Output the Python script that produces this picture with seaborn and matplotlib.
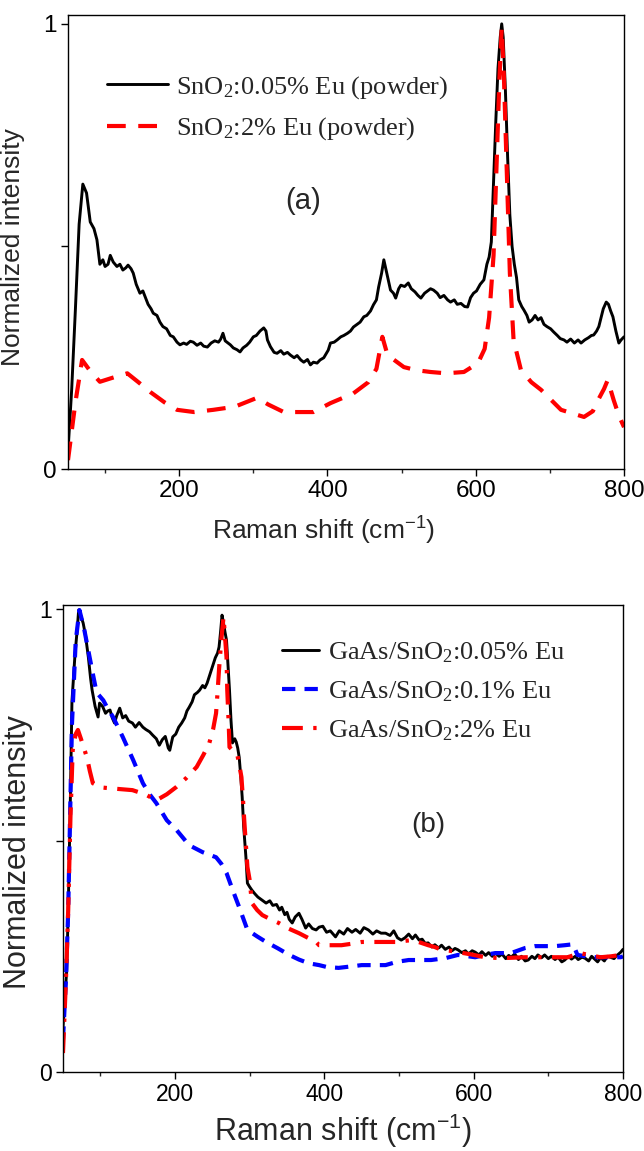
import matplotlib
matplotlib.use("Agg")
import matplotlib.pyplot as plt
import seaborn as sns
from matplotlib.ticker import FixedLocator

# ---- panel (a): SnO2 powders ----
a_x = [50, 55, 60, 65, 70, 75, 80, 85, 89, 93, 97, 100, 104, 107, 111, 116, 120, 124, 128, 131,
       135, 138, 142, 147, 151, 154, 158, 162, 165, 170, 174, 178, 183, 188, 192, 197, 201, 206,
       210, 215, 219, 224, 229, 233, 238, 243, 248, 253, 256, 259, 262, 266, 269, 273, 278, 282,
       286, 291, 295, 300, 304, 309, 314, 317, 319, 323, 328, 332, 337, 341, 346, 350, 355, 359,
       364, 368, 373, 377, 381, 386, 390, 395, 401, 404, 409, 413, 418, 422, 427, 431, 435, 440,
       444, 449, 453, 458, 462, 466, 469, 473, 476, 480, 485, 489, 492, 496, 499, 504, 509, 513,
       518, 522, 526, 531, 535, 539, 543, 548, 552, 557, 562, 566, 571, 575, 580, 585, 589, 593,
       597, 601, 606, 611, 615, 618, 621, 624, 627, 630, 633, 635, 637, 640, 643, 646, 649, 652,
       655, 658, 662, 665, 669, 672, 676, 680, 684, 688, 692, 696, 701, 705, 710, 714, 719, 723,
       728, 733, 738, 742, 747, 752, 756, 759, 763, 766, 769, 772, 776, 779, 782, 785, 789, 793,
       796, 800]
a_black = [0.04, 0.18, 0.36, 0.55, 0.64, 0.62, 0.555, 0.54, 0.515, 0.46, 0.47, 0.455, 0.46, 0.48,
           0.465, 0.455, 0.46, 0.447, 0.452, 0.458, 0.45, 0.44, 0.415, 0.395, 0.40, 0.387, 0.37,
           0.36, 0.35, 0.345, 0.33, 0.32, 0.315, 0.30, 0.297, 0.285, 0.279, 0.283, 0.28, 0.287,
           0.285, 0.278, 0.283, 0.276, 0.274, 0.283, 0.288, 0.285, 0.292, 0.305, 0.288, 0.283,
           0.279, 0.272, 0.268, 0.263, 0.272, 0.278, 0.285, 0.297, 0.30, 0.31, 0.317, 0.31, 0.29,
           0.275, 0.262, 0.26, 0.266, 0.258, 0.262, 0.256, 0.25, 0.255, 0.245, 0.24, 0.246, 0.234,
           0.24, 0.238, 0.245, 0.25, 0.267, 0.283, 0.285, 0.29, 0.297, 0.30, 0.305, 0.31, 0.319,
           0.325, 0.33, 0.342, 0.345, 0.355, 0.369, 0.38, 0.409, 0.44, 0.47, 0.44, 0.402, 0.395,
           0.384, 0.405, 0.413, 0.41, 0.418, 0.405, 0.398, 0.39, 0.384, 0.395, 0.40, 0.405, 0.402,
           0.395, 0.385, 0.39, 0.38, 0.375, 0.38, 0.37, 0.372, 0.365, 0.364, 0.385, 0.395, 0.40,
           0.415, 0.425, 0.46, 0.476, 0.51, 0.643, 0.78, 0.90, 0.97, 1.0, 0.97, 0.85, 0.70, 0.57,
           0.50, 0.46, 0.43, 0.38, 0.365, 0.357, 0.345, 0.33, 0.335, 0.345, 0.335, 0.34, 0.325,
           0.32, 0.315, 0.308, 0.30, 0.293, 0.29, 0.285, 0.292, 0.283, 0.29, 0.283, 0.29, 0.295,
           0.30, 0.301, 0.31, 0.32, 0.34, 0.36, 0.375, 0.37, 0.355, 0.342, 0.31, 0.283, 0.29, 0.297]

a_red_x = [50, 60, 69, 80, 93, 110, 130, 145, 161, 180, 197, 220, 246, 275, 305, 320, 341, 381,
           404, 435, 455, 466, 474, 481, 503, 520, 539, 560, 584, 603, 612, 618, 624, 628, 632,
           635, 638, 642, 646, 651, 661, 675, 688, 715, 746, 758, 765, 773, 778, 786, 793, 800]
a_red = [0.02, 0.15, 0.245, 0.22, 0.196, 0.205, 0.215, 0.195, 0.173, 0.15, 0.133, 0.128, 0.133,
         0.14, 0.16, 0.145, 0.128, 0.128, 0.148, 0.17, 0.195, 0.225, 0.297, 0.256, 0.229, 0.222,
         0.218, 0.215, 0.218, 0.238, 0.27, 0.34, 0.48, 0.68, 0.88, 0.99, 0.88, 0.66, 0.44, 0.29,
         0.222, 0.195, 0.178, 0.133, 0.117, 0.13, 0.155, 0.18, 0.2, 0.155, 0.12, 0.094]

a_labels = ["SnO$_2$:0.05% Eu (powder)", "SnO$_2$:2% Eu (powder)"]

# ---- panel (b): GaAs/SnO2 films ----
b_x = [50, 55, 57, 60, 62, 66, 69, 71, 74, 77, 80, 84, 87, 89, 93, 97, 99, 103, 107, 110, 113,
       116, 119, 122, 126, 130, 134, 138, 143, 147, 152, 157, 161, 166, 170, 175, 179, 183, 187,
       189, 191, 193, 195, 197, 201, 205, 209, 213, 216, 219, 223, 226, 230, 233, 237, 240, 243,
       247, 250, 254, 257, 259, 261, 263, 265, 267, 269, 271, 273, 275, 277, 280, 282, 284, 286,
       288, 290, 292, 295, 297, 300, 303, 307, 311, 317, 322, 327, 331, 336, 340, 343, 347, 350,
       353, 357, 361, 366, 370, 375, 379, 384, 389, 393, 398, 403, 408, 415, 420, 426, 431, 437,
       442, 448, 453, 459, 465, 470, 476, 482, 488, 493, 498, 503, 508, 513, 518, 522, 527, 531,
       535, 539, 544, 548, 553, 557, 562, 567, 571, 575, 579, 584, 589, 593, 598, 602, 607, 611,
       616, 620, 625, 629, 634, 638, 643, 647, 650, 655, 660, 664, 669, 673, 678, 682, 686, 691,
       695, 700, 704, 709, 713, 718, 722, 727, 731, 736, 740, 745, 749, 754, 758, 762, 766, 770,
       775, 779, 783, 788, 792, 797, 800]
b_black = [0.097, 0.22, 0.35, 0.6, 0.80, 0.90, 0.955, 0.998, 0.985, 0.97, 0.945, 0.896, 0.85,
           0.825, 0.79, 0.767, 0.797, 0.79, 0.775, 0.78, 0.782, 0.765, 0.754, 0.77, 0.786, 0.765,
           0.77, 0.758, 0.754, 0.745, 0.755, 0.745, 0.74, 0.735, 0.728, 0.72, 0.706, 0.718, 0.725,
           0.713, 0.70, 0.695, 0.71, 0.724, 0.73, 0.745, 0.754, 0.765, 0.78, 0.788, 0.80, 0.815,
           0.82, 0.825, 0.835, 0.83, 0.84, 0.86, 0.875, 0.895, 0.905, 0.918, 0.95, 0.987, 0.97,
           0.95, 0.933, 0.88, 0.825, 0.76, 0.711, 0.72, 0.713, 0.70, 0.68, 0.64, 0.594, 0.53,
           0.464, 0.408, 0.40, 0.393, 0.385, 0.378, 0.371, 0.365, 0.37, 0.36, 0.362, 0.35, 0.356,
           0.34, 0.345, 0.33, 0.322, 0.335, 0.343, 0.33, 0.311, 0.32, 0.31, 0.307, 0.313, 0.315,
           0.302, 0.305, 0.292, 0.305, 0.298, 0.31, 0.302, 0.308, 0.30, 0.312, 0.307, 0.298, 0.305,
           0.30, 0.30, 0.295, 0.305, 0.29, 0.285, 0.29, 0.298, 0.288, 0.296, 0.285, 0.287, 0.278,
           0.279, 0.27, 0.275, 0.268, 0.274, 0.265, 0.27, 0.262, 0.267, 0.264, 0.258, 0.262, 0.255,
           0.262, 0.259, 0.253, 0.26, 0.252, 0.258, 0.25, 0.257, 0.25, 0.255, 0.245, 0.252, 0.248,
           0.255, 0.243, 0.25, 0.24, 0.242, 0.25, 0.245, 0.253, 0.247, 0.253, 0.245, 0.25, 0.243,
           0.248, 0.238, 0.242, 0.25, 0.244, 0.25, 0.243, 0.248, 0.246, 0.24, 0.25, 0.244, 0.238,
           0.247, 0.24, 0.25, 0.248, 0.245, 0.252, 0.259, 0.265]

b_blue_x = [50, 54, 57, 62, 67, 72, 78, 84, 90, 95, 104, 110, 117, 130, 144, 157, 166, 175, 189,
            202, 219, 237, 255, 262, 269, 278, 286, 297, 310, 322, 338, 353, 366, 379, 393, 403,
            419, 435, 450, 466, 482, 497, 513, 528, 543, 562, 579, 602, 615, 629, 650, 669, 682,
            695, 709, 722, 733, 739, 750, 762, 780, 797, 800]
b_blue = [0.07, 0.2, 0.35, 0.75, 0.93, 0.998, 0.96, 0.91, 0.86, 0.82, 0.803, 0.785, 0.767, 0.724,
          0.674, 0.624, 0.60, 0.581, 0.544, 0.523, 0.49, 0.475, 0.464, 0.45, 0.43, 0.39, 0.356,
          0.307, 0.293, 0.281, 0.267, 0.253, 0.243, 0.235, 0.231, 0.227, 0.225, 0.228, 0.231,
          0.231, 0.231, 0.238, 0.242, 0.242, 0.242, 0.246, 0.253, 0.248, 0.253, 0.257, 0.257,
          0.268, 0.272, 0.272, 0.272, 0.274, 0.276, 0.253, 0.25, 0.248, 0.248, 0.248, 0.25]

b_red_x = [50, 54, 57, 60, 63, 67, 70, 74, 78, 82, 86, 90, 100, 113, 128, 143, 160, 175, 189, 202,
           215, 229, 238, 246, 251, 255, 257, 259, 262, 265, 267, 269, 270, 272, 273, 277, 283,
           286, 289, 291, 293, 295, 297, 300, 303, 310, 317, 328, 339, 352, 366, 378, 389, 393,
           408, 423, 436, 450, 462, 475, 495, 517, 528, 539, 548, 557, 568, 579, 597, 615, 626,
           637, 653, 669, 686, 703, 715, 726, 735, 743, 756, 770, 784, 797, 800]
b_red = [0.041, 0.2, 0.35, 0.55, 0.695, 0.73, 0.739, 0.72, 0.70, 0.68, 0.65, 0.624, 0.615, 0.613,
         0.611, 0.609, 0.60, 0.587, 0.60, 0.616, 0.635, 0.659, 0.685, 0.711, 0.74, 0.775, 0.82,
         0.87, 0.933, 0.983, 0.94, 0.896, 0.825, 0.75, 0.702, 0.695, 0.689, 0.665, 0.637, 0.59,
         0.538, 0.49, 0.443, 0.415, 0.365, 0.35, 0.339, 0.33, 0.322, 0.31, 0.30, 0.29, 0.281,
         0.274, 0.274, 0.274, 0.277, 0.281, 0.281, 0.281, 0.281, 0.285, 0.28, 0.274, 0.27, 0.264,
         0.262, 0.259, 0.254, 0.248, 0.247, 0.246, 0.247, 0.248, 0.248, 0.248, 0.248, 0.248,
         0.253, 0.257, 0.252, 0.248, 0.25, 0.253, 0.255]

b_labels = ["GaAs/SnO$_2$:0.05% Eu", "GaAs/SnO$_2$:0.1% Eu", "GaAs/SnO$_2$:2% Eu"]

sns.set_theme(style="ticks")
plt.rcParams["font.family"] = ["Liberation Sans", "DejaVu Sans"]
plt.rcParams["mathtext.default"] = "regular"
plt.rcParams["axes.linewidth"] = 1.0

fig = plt.figure(figsize=(6.44, 11.51), dpi=100)
ax1 = fig.add_axes([0.1056, 0.5925, 0.8634, 0.3945])
ax2 = fig.add_axes([0.0978, 0.0686, 0.8696, 0.4058])

sns.lineplot(x=a_x, y=a_black, ax=ax1, color="black", linewidth=2.1, estimator=None,
             label=a_labels[0])
sns.lineplot(x=a_red_x, y=a_red, ax=ax1, color="red", linewidth=3, estimator=None,
             linestyle=(0, (4.5, 3)), label=a_labels[1])

sns.lineplot(x=b_x, y=b_black, ax=ax2, color="black", linewidth=2.1, estimator=None,
             label=b_labels[0])
sns.lineplot(x=b_blue_x, y=b_blue, ax=ax2, color="blue", linewidth=3, estimator=None,
             linestyle=(0, (3.2, 2.2)), label=b_labels[1])
sns.lineplot(x=b_red_x, y=b_red, ax=ax2, color="red", linewidth=3, estimator=None,
             linestyle=(0, (5, 2.5, 0.8, 2.5)), label=b_labels[2])


def style_axis(ax, ymax, tsize, lsize):
    ax.set_xlim(50, 800)
    ax.set_ylim(0, ymax)
    ax.xaxis.set_major_locator(FixedLocator([200, 400, 600, 800]))
    ax.xaxis.set_minor_locator(FixedLocator([100, 300, 500, 700]))
    ax.set_yticks([0, 0.5, 1])
    ax.set_yticklabels(["0", "", "1"])
    ax.tick_params(which="major", direction="out", length=5, width=1.0, labelsize=tsize,
                   pad=3, colors="black")
    ax.tick_params(which="minor", direction="out", length=3, width=1.0)
    for s in ax.spines.values():
        s.set_visible(True)
        s.set_color("black")
    ax.set_xlabel("Raman shift (cm$^{-1}$)", fontsize=lsize)
    ax.set_ylabel("Normalized intensity", fontsize=lsize)


style_axis(ax1, 1.02, 17.5, 19)
style_axis(ax2, 1.009, 16.5, 22)

ax1.xaxis.set_label_coords(0.459, -0.10)
ax1.yaxis.set_label_coords(-0.077, 0.489)
ax2.xaxis.set_label_coords(0.5, -0.085)
ax2.yaxis.set_label_coords(-0.054, 0.471)

ax1.text(0.423, 0.59, "(a)", transform=ax1.transAxes, fontsize=21, ha="center", va="center")
ax2.text(0.652, 0.529, "(b)", transform=ax2.transAxes, fontsize=20, ha="center", va="center")

leg_font = {"family": ["Liberation Serif", "DejaVu Serif"], "size": 19}
ax1.legend(loc="upper left", bbox_to_anchor=(0.07, 0.870), frameon=False, prop=leg_font,
           handlelength=2.3, handletextpad=0.3, labelspacing=0.55, borderaxespad=0,
           borderpad=0)
ax2.legend(loc="upper left", bbox_to_anchor=(0.391, 0.924), frameon=False, prop=leg_font,
           handlelength=1.4, handletextpad=0.35, labelspacing=0.55, borderaxespad=0,
           borderpad=0)

fig.savefig("out.png", dpi=100)
